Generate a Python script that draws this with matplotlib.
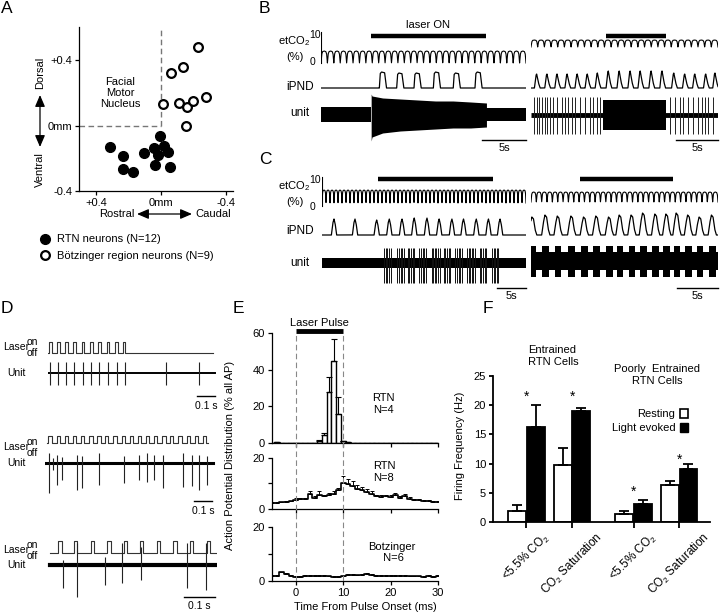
import numpy as np
import matplotlib
matplotlib.use('Agg')
import matplotlib.pyplot as plt
from matplotlib.patches import Patch
from matplotlib.transforms import ScaledTranslation

plt.rcParams['font.family'] = ['Liberation Sans', 'DejaVu Sans']
plt.rcParams['mathtext.fontset'] = 'custom'
plt.rcParams['mathtext.rm'] = 'Liberation Sans'
plt.rcParams['mathtext.it'] = 'Liberation Sans:italic'
plt.rcParams['mathtext.default'] = 'regular'
plt.rcParams['font.size'] = 8
plt.rcParams['axes.linewidth'] = 0.9
plt.rcParams['xtick.major.size'] = 3
plt.rcParams['ytick.major.size'] = 3
plt.rcParams['xtick.major.width'] = 0.9
plt.rcParams['ytick.major.width'] = 0.9

# ------------------------------------------------------------------ DATA
# Panel A: neuron locations (mm; + = rostral / dorsal)
rtn_rc = [0.312, 0.236, 0.236, 0.174, 0.107, 0.045, 0.008, 0.021, -0.016, -0.045, 0.035, -0.057]
rtn_dv = [-0.129, -0.183, -0.267, -0.283, -0.166, -0.137, -0.062, -0.178, -0.127, -0.164, -0.240, -0.252]
botz_rc = [-0.226, -0.137, -0.064, -0.012, -0.113, -0.162, -0.197, -0.277, -0.152]
botz_dv = [0.478, 0.359, 0.322, 0.133, 0.139, 0.113, 0.150, 0.174, -0.004]
a_xticks = [0.4, 0.0, -0.4]
a_xticklabels = ['+0.4', '0mm', '-0.4']
a_yticks = [-0.4, 0.0, 0.4]
a_yticklabels = ['-0.4', '0mm', '+0.4']

# Panel B / C: breathing cycles, laser epochs (s), iPND burst times (s)
bl_co2_cycles = 32
bl_laser = (5.7, 18.8)
bl_ipnd = [6.63, 8.6, 10.57, 12.77, 15.03, 17.5]
bl_ipnd_h = [16, 15, 15, 16, 15, 16]
bl_env_t = [5.7, 5.8, 7, 9, 11, 13, 15, 17, 18.8]
bl_env_top = [94, 96, 98, 99, 100, 101, 101, 102, 103]
bl_env_bot = [141, 137, 133, 131, 130, 129, 128, 128, 127]

br_co2_cycles = 28
br_laser = (8.9, 16.1)
br_ipnd = [0.67, 1.9, 3.1, 4.3, 5.5, 6.7, 7.9, 9.2, 10.5, 11.8, 13.0, 14.3, 15.6, 17.0, 18.3, 19.5, 20.8, 21.9]
br_ipnd_h = [14, 14, 14, 14, 14, 14, 15, 17, 17, 17, 17, 17, 17, 15, 14, 14, 14, 15]
br_unit_dense = (8.6, 16.1)
br_spikes = [0.36, 0.68, 0.99, 1.31, 1.67, 1.94, 2.26, 2.66, 3.06, 3.65, 4.05, 4.44, 4.84, 5.24,
             5.83, 6.43, 7.02, 7.42, 7.82, 8.21, 16.55, 17.14, 17.74, 18.14, 18.73, 19.33,
             19.92, 20.32, 20.71, 21.11, 21.70]

cl_co2_cycles = 51
cl_laser = (9.6, 29.5)
cl_ipnd = [2.07, 5.69, 9.43, 11.6, 13.8, 15.9, 18.1, 20.2, 22.4, 24.4, 26.6, 28.7, 30.7]
cl_ipnd_h = [16, 16, 15, 16, 16, 17, 17, 16, 16, 16, 16, 16, 16]
cl_bursts = [(10.7, 12.0), (13.0, 14.3), (14.8, 16.1), (16.8, 18.1), (18.9, 20.3),
             (21.0, 22.4), (23.0, 24.4), (25.0, 26.5), (27.2, 28.4), (29.3, 30.6)]

cr_co2_cycles = 35
cr_laser = (6.0, 17.3)
cr_ipnd = [0.2, 1.8, 3.3, 4.96, 6.5, 8.0, 9.55, 10.85, 12.3, 13.7, 15.2, 16.55, 17.8, 19.2, 20.6, 22.1]
cr_ipnd_h = [18, 20, 19, 19, 18, 19, 18, 20, 20, 22, 21, 21, 22, 20, 18, 20]

# Panel D: laser pulse onsets and unit spike times (s)
d1_pulses = [0.007, 0.052, 0.096, 0.141, 0.187, 0.233, 0.280, 0.326, 0.372, 0.415]
d1_spikes = [0.009, 0.054, 0.098, 0.143, 0.193, 0.239, 0.285, 0.332, 0.383, 0.430, 0.656, 0.837]
d2_pulses = [0.0185, 0.0648, 0.1111, 0.1537, 0.2, 0.2463, 0.2907, 0.3333, 0.3796, 0.4259,
             0.4722, 0.5148, 0.5611, 0.6056, 0.6519, 0.6944, 0.7407, 0.787, 0.8333, 0.8759]
d2_spikes = [0.0241, 0.0463, 0.0685, 0.0963, 0.1796, 0.2074, 0.3, 0.4389, 0.5241, 0.5685,
             0.6056, 0.6574, 0.7685, 0.8148, 0.8574, 0.9019]
d2_up = [453, 458, 455, 457, 455, 456, 453, 456, 455, 453, 455, 455, 453, 455, 455, 456]
d2_dn = [493, 470, 485, 480, 490, 488, 485, 483, 480, 482, 480, 488, 487, 486, 490, 485]
d3_pulses = [0.0434, 0.0945, 0.1488, 0.2031, 0.2573, 0.3094, 0.3637, 0.418, 0.4723, 0.5266]
d3_spikes = [0.0575, 0.1053, 0.1965, 0.2497, 0.3116, 0.4615, 0.5234]
d3_up = [560, 543, 557, 543, 547, 543, 543]
d3_dn = [588, 597, 585, 583, 580, 588, 590]

# Panel E: peri-stimulus histograms (% all AP), 1-ms bins centred on -5..30 ms
e_t = list(range(-5, 31))
e_rtn4 = [0, 0.5, 0, 0, 0, 0, 0, 0, 0, 0, 1.2, 4.5, 28, 45, 16, 1.0, 0.4, 0, 0, 0.2,
          0, 0, 0, 0, 0, 0, 0, 0, 0, 0, 0, 0, 0, 0, 0, 0]
e_rtn4_err = [0, 0, 0, 0, 0, 0, 0, 0, 0, 0, 0.3, 1.0, 8, 12, 9, 0.3, 0, 0, 0, 0,
              0, 0, 0, 0, 0, 0, 0, 0, 0, 0, 0, 0, 0, 0, 0, 0]
e_rtn8 = [2.5, 2.5, 2.6, 2.8, 3.0, 3.6, 3.8, 3.8, 5.8, 4.4, 5.6, 5.0, 5.5, 6.0, 7.2, 10.0,
          9.6, 9.0, 7.8, 7.2, 6.5, 5.8, 5.0, 4.8, 5.0, 4.6, 5.4, 4.4, 5.0, 4.0, 3.6, 3.4,
          3.2, 3.0, 2.8, 2.8]
e_rtn8_err = [0.3, 0.3, 0.3, 0.3, 0.3, 0.5, 0.5, 0.5, 1.3, 0.6, 1.4, 0.5, 0.6, 0.8, 1.0, 3.0,
              2.2, 2.0, 1.4, 1.2, 1.2, 1.0, 0.6, 0.6, 0.6, 0.8, 0.8, 0.6, 0.8, 0.5, 0.4, 0.4,
              0.4, 0.4, 0.4, 0.4]
e_botz = [1.8, 1.9, 3.2, 2.6, 2.0, 1.6, 1.5, 1.8, 2.0, 2.0, 1.9, 1.8, 1.7, 1.5, 1.4, 1.7,
          2.4, 2.2, 2.1, 2.4, 2.6, 2.2, 1.9, 1.8, 2.0, 1.9, 1.8, 2.0, 1.8, 1.7, 1.7, 1.7,
          1.6, 1.8, 1.4, 1.8]
e_botz_err = [0.3] * 36
e_pulse = (0, 10)

# Panel F: firing frequency (Hz)
f_categories = ['<5.5% CO$_2$', 'CO$_2$ Saturation', '<5.5% CO$_2$', 'CO$_2$ Saturation']
f_resting = [1.8, 9.7, 1.4, 6.4]
f_resting_err = [1.15, 3.0, 0.45, 0.7]
f_light = [16.3, 18.95, 3.1, 9.0]
f_light_err = [3.7, 0.65, 0.6, 1.0]
f_sig = [True, True, True, True]

# ------------------------------------------------------------------ FIGURE
W, H = 720, 614
fig = plt.figure(figsize=(7.2, 6.14), dpi=100)


def axes_px(x0, y0, x1, y1):
    ax = fig.add_axes([x0 / W, 1 - y1 / H, (x1 - x0) / W, (y1 - y0) / H])
    ax.patch.set_alpha(0)
    return ax


def trace_axes(x0, x1, y0, y1, t0, t1):
    ax = axes_px(x0, y0, x1, y1)
    ax.set_xlim(t0, t1)
    ax.set_ylim(y1, y0)
    ax.axis('off')
    return ax


ov = axes_px(0, 0, W, H)
ov.set_xlim(0, W)
ov.set_ylim(H, 0)
ov.axis('off')

# panel letters
for lab, x, y in [('A', 1, 1), ('B', 259, 1), ('C', 259, 152), ('D', 1, 301), ('E', 233, 301), ('F', 483, 301)]:
    ov.text(x, y, lab, fontsize=12.5, ha='left', va='top')

# ------------------------------------------------------------------ A
axA = axes_px(79, 27, 233, 191)
axA.set_xlim(0.505, -0.443)
axA.set_ylim(-0.4, 0.603)
axA.plot([0, 0], [0, 0.603], color='#777777', lw=1, dashes=(4, 2.5))
axA.plot([0.505, 0], [0, 0], color='#777777', lw=1, dashes=(4, 2.5))
axA.plot(rtn_rc, rtn_dv, 'o', ms=7, mfc='black', mec='black', label='RTN neurons (N=12)', clip_on=False)
axA.plot(botz_rc, botz_dv, 'o', ms=6.3, mfc='white', mec='black', mew=1.6,
         label='Bötzinger region neurons (N=9)', clip_on=False)
for s in ['top', 'right']:
    axA.spines[s].set_visible(False)
axA.set_xticks(a_xticks)
axA.set_xticklabels(a_xticklabels)
axA.set_yticks(a_yticks)
axA.set_yticklabels(a_yticklabels)
axA.tick_params(labelsize=8, pad=2)
axA.text(0.25, 0.2, 'Facial\nMotor\nNucleus', ha='center', va='center', fontsize=8, linespacing=1.15)
axA.legend(loc='upper left', bbox_to_anchor=(-0.26, -0.265), borderaxespad=0, borderpad=0,
           frameon=False, fontsize=8, handlelength=1.0, handletextpad=0.6, labelspacing=0.55)
ov.text(40, 73, 'Dorsal', rotation=90, ha='center', va='center', fontsize=8)
ov.text(40, 170, 'Ventral', rotation=90, ha='center', va='center', fontsize=8)
ov.annotate('', xy=(40, 147), xytext=(40, 95),
            arrowprops=dict(arrowstyle='<|-|>,head_length=0.7,head_width=0.3', color='black', lw=0.9,
                            mutation_scale=10, shrinkA=0, shrinkB=0))
ov.text(117, 214, 'Rostral', ha='center', va='center', fontsize=8)
ov.text(213, 214, 'Caudal', ha='center', va='center', fontsize=8)
ov.annotate('', xy=(192, 214), xytext=(137, 214),
            arrowprops=dict(arrowstyle='<|-|>,head_length=0.7,head_width=0.3', color='black', lw=0.9,
                            mutation_scale=10, shrinkA=0, shrinkB=0))

# ------------------------------------------------------------------ B / C helpers
CO2_SHAPE_U = [0, 0.12, 0.25, 0.5, 0.75, 0.88, 1.0]
CO2_SHAPE_S = [0, 0.75, 0.95, 1.0, 0.95, 0.75, 0]


def draw_co2(ax, t1, ncyc, lo_px, hi_px):
    t = np.linspace(0, t1, 4000)
    phase = (t / (t1 / ncyc)) % 1.0
    shape = np.interp(phase, CO2_SHAPE_U, CO2_SHAPE_S)
    ax.plot(t, lo_px - (lo_px - hi_px) * shape, color='black', lw=0.8)


def draw_ipnd(ax, t1, base, times, heights, dur, U, S, lw=0.9):
    t = np.linspace(0, t1, 5000)
    y = np.full_like(t, float(base))
    for t0, h in zip(times, heights):
        y -= h * np.interp((t - t0) / dur, U, S, left=0, right=0)
    ax.plot(t, y, color='black', lw=lw)


def scale_bar(ax, t1, length, y, label, lw=1.0):
    ax.plot([t1 - length, t1], [y, y], color='black', lw=lw, clip_on=False)
    if label:
        ax.text(t1 - length / 2, y + 3, label, ha='center', va='top', fontsize=8)


# B left  (8.8 px / s)
bl_T = 205 / 8.8
axBL = trace_axes(321, 526, 22, 150, 0, bl_T)
draw_co2(axBL, bl_T, bl_co2_cycles, 63, 51)
axBL.plot([0, 0], [63, 32], color='black', lw=0.8)
axBL.plot(bl_laser, [36, 36], color='black', lw=3.2, solid_capstyle='butt')
draw_ipnd(axBL, bl_T, 88, bl_ipnd, bl_ipnd_h, 0.8, [0, 0.12, 0.3, 0.75, 0.9, 1.0], [0, 0.9, 1.0, 0.95, 0.4, 0])
axBL.fill_between([0, bl_laser[0]], 107, 122, color='black', lw=0)
axBL.fill_between([bl_laser[1], bl_T], 108, 121, color='black', lw=0)
axBL.fill_between(bl_env_t, bl_env_top, bl_env_bot, color='black', lw=0)
scale_bar(axBL, bl_T, 5, 140, '5s')
ov.text(428, 25, 'laser ON', ha='center', va='center', fontsize=8)

# B right (8.4 px / s)
br_T = 187 / 8.4
axBR = trace_axes(531, 718, 22, 150, 0, br_T)
draw_co2(axBR, br_T, br_co2_cycles, 47, 40)
axBR.plot(br_laser, [36, 36], color='black', lw=3.2, solid_capstyle='butt')
draw_ipnd(axBR, br_T, 88, br_ipnd, br_ipnd_h, 0.75, [-0.35, -0.1, 0.0, 0.3, 0.55], [0, 0.9, 1.0, 0.35, 0])
axBR.plot([0, br_T], [114.5, 114.5], color='black', lw=3.5, solid_capstyle='butt')
axBR.fill_between(br_unit_dense, 100, 130, color='black', lw=0)
axBR.vlines(br_spikes, 97, 134, color='#222222', lw=0.7)
scale_bar(axBR, br_T, 5, 140, '5s')

# C left (5.8 px / s)
cl_T = 204 / 5.8
axCL = trace_axes(322, 526, 165, 300, 0, cl_T)
draw_co2(axCL, cl_T, cl_co2_cycles, 203, 190)
axCL.plot([0, 0], [206, 177], color='black', lw=0.8)
axCL.plot(cl_laser, [179, 179], color='black', lw=3.2, solid_capstyle='butt')
draw_ipnd(axCL, cl_T, 235, cl_ipnd, cl_ipnd_h, 1.0, [-0.45, -0.2, 0, 0.2, 0.45], [0, 0.75, 1.0, 0.7, 0])
axCL.fill_between([0, cl_T], 258, 268, color='black', lw=0)
for b0, b1 in cl_bursts:
    ts = np.arange(b0, b1, 0.28)
    axCL.vlines(ts, 248, 283, color='#111111', lw=0.7)
scale_bar(axCL, cl_T, 5, 288, '5s')

# C right (8.2 px / s)
cr_T = 187 / 8.2
axCR = trace_axes(531, 718, 165, 300, 0, cr_T)
draw_co2(axCR, cr_T, cr_co2_cycles, 202, 192)
axCR.plot(cr_laser, [179, 179], color='black', lw=3.2, solid_capstyle='butt')
draw_ipnd(axCR, cr_T, 235, cr_ipnd, cr_ipnd_h, 1.0, [-0.5, -0.3, -0.1, 0.1, 0.3, 0.5], [0, 0.6, 1.0, 0.9, 0.3, 0])
axCR.fill_between([0, cr_T], 252, 270, color='black', lw=0)
for tp in cr_ipnd:
    axCR.fill_between([max(tp - 0.4, 0), min(tp + 0.4, cr_T)], 246, 277, color='black', lw=0)
scale_bar(axCR, cr_T, 5, 288, '5s')

# B / C row labels
for y0 in [0, 145]:
    ov.text(294, 41 + y0, 'etCO$_2$', ha='center', va='center', fontsize=8)
    ov.text(295, 57 + y0, '(%)', ha='center', va='center', fontsize=8)
    ov.text(315, 35 + y0, '10', ha='center', va='center', fontsize=7.5)
    ov.text(313, 62 + y0, '0', ha='center', va='center', fontsize=7.5)
ov.text(300, 87, 'iPND', ha='center', va='center', fontsize=8.5)
ov.text(300, 113, 'unit', ha='center', va='center', fontsize=8.5)
ov.text(300, 231, 'iPND', ha='center', va='center', fontsize=8.5)
ov.text(300, 263, 'unit', ha='center', va='center', fontsize=8.5)

# ------------------------------------------------------------------ D


def draw_pulses(ax, starts, width, t0, t1, base, high):
    xs, ys = [t0], [base]
    for s in starts:
        xs += [s, s, s + width, s + width]
        ys += [base, high, high, base]
    xs.append(t1)
    ys.append(base)
    ax.plot(xs, ys, color='#333333', lw=0.8)


# row 1 (180 px / s)
axD1 = trace_axes(48, 216, 335, 415, 0, 168 / 180)
draw_pulses(axD1, d1_pulses, 0.015, 0, 0.915, 353, 342)
axD1.plot([0, 0.928], [373, 373], color='black', lw=1.4)
axD1.vlines(d1_spikes, 362, 385, color='#222222', lw=0.8)
scale_bar(axD1, 0.928, 0.1, 396, None)
axD1.text(0.878, 401, '0.1 s', ha='center', va='top', fontsize=7.5)

# row 2 (180 px / s)
axD2 = trace_axes(45, 216, 430, 520, 0, 171 / 180)
draw_pulses(axD2, d2_pulses, 0.018, 0.0093, 0.907, 443, 436)
axD2.plot([0, 0.935], [463, 463], color='black', lw=2.2)
axD2.vlines(d2_spikes, d2_up, d2_dn, color='#222222', lw=0.8)
scale_bar(axD2, 0.928, 0.1, 501, None)
axD2.text(0.878, 506, '0.1 s', ha='center', va='top', fontsize=7.5)

# row 3 (307 px / s)
axD3 = trace_axes(45, 217, 535, 614, 0, 172 / 307)
draw_pulses(axD3, d3_pulses, 0.011, 0.0163, 0.559, 553, 541)
axD3.plot([0.0163, 0.557], [565, 565], color='black', lw=3.0)
axD3.vlines(d3_spikes, d3_up, d3_dn, color='#222222', lw=0.8)
scale_bar(axD3, 0.5528, 0.1, 597, None)
axD3.text(0.5028, 601, '0.1 s', ha='center', va='top', fontsize=7.5)

for yl, yu in [(347, 373), (447, 463), (550, 565)]:
    ov.text(3, yl, 'Laser', ha='left', va='center', fontsize=7.5)
    ov.text(27, yl - 5, 'on', ha='left', va='center', fontsize=7.5)
    ov.text(27, yl + 6, 'off', ha='left', va='center', fontsize=7.5)
    ov.text(7, yu, 'Unit', ha='left', va='center', fontsize=7.5)

# ------------------------------------------------------------------ E
axE1 = axes_px(272, 333, 438, 443)
axE2 = axes_px(272, 457.5, 438, 509)
axE3 = axes_px(272, 527, 438, 581)
axEo = axes_px(272, 333, 438, 581)
axEo.set_xlim(-5, 30)
axEo.set_ylim(0, 1)
axEo.axis('off')
for xv in e_pulse:
    axEo.axvline(xv, color='#888888', lw=0.8, dashes=(5, 3))

e_t_arr = np.array(e_t, dtype=float)
axE1.bar(e_t_arr, e_rtn4, width=1.0, color='white', edgecolor='black', lw=1.0, zorder=2)
axE1.errorbar(e_t_arr, e_rtn4, yerr=[np.zeros(len(e_t)), e_rtn4_err], fmt='none',
              ecolor='black', elinewidth=0.8, capsize=2, capthick=0.8, zorder=3)
axE1.plot(e_pulse, [61, 61], color='black', lw=3.5, solid_capstyle='butt', clip_on=False)
axE1.text(5, 62.8, 'Laser Pulse', ha='center', va='bottom', fontsize=8)
axE1.text(18.4, 21.3, 'RTN\nN=4', ha='center', va='center', fontsize=8, linespacing=1.15)

for ax, vals, errs in [(axE2, e_rtn8, e_rtn8_err), (axE3, e_botz, e_botz_err)]:
    ax.step(e_t_arr, vals, where='mid', color='black', lw=1.2)
    ax.errorbar(e_t_arr, vals, yerr=[np.zeros(len(e_t)), errs], fmt='none', ecolor='black',
                elinewidth=0.7, capsize=1.5, capthick=0.7)
axE2.text(18.6, 14.4, 'RTN\nN=8', ha='center', va='center', fontsize=8, linespacing=1.15)
axE3.text(20.3, 10.6, 'Botzinger\n N=6', ha='center', va='center', fontsize=8, linespacing=1.15)

for ax, top, yt in [(axE1, 60, [0, 20, 40, 60]), (axE2, 20, [0, 10, 20]), (axE3, 20, [0, 10, 20])]:
    ax.set_xlim(-5, 30)
    ax.set_ylim(0, top)
    for s in ['top', 'right']:
        ax.spines[s].set_visible(False)
    ax.set_yticks(yt)
    ax.set_yticklabels([str(v) if (top == 60 or v != 10) else '' for v in yt])
    ax.set_xticks([0, 10, 20, 30])
    ax.tick_params(labelsize=8, pad=2)
    if ax is not axE3:
        ax.set_xticklabels([])
ov.text(365, 607, 'Time From Pulse Onset (ms)', ha='center', va='center', fontsize=8)
ov.text(230, 455, 'Action Potential Distribution (% all AP)', rotation=90, ha='center', va='center',
        fontsize=8)

# ------------------------------------------------------------------ F
axF = axes_px(493, 376, 710, 522)
f_x = np.array([0.0, 1.0, 2.34, 3.34])
bw = 0.39
axF.bar(f_x - 0.2, f_resting, width=bw, color='white', edgecolor='black', lw=1.3, label='Resting')
axF.bar(f_x + 0.2, f_light, width=bw, color='black', edgecolor='black', lw=1.3, label='Light evoked')
axF.errorbar(f_x - 0.2, f_resting, yerr=[np.zeros(4), f_resting_err], fmt='none', ecolor='black',
             elinewidth=1.3, capsize=3.5, capthick=1.3)
axF.errorbar(f_x + 0.2, f_light, yerr=[np.zeros(4), f_light_err], fmt='none', ecolor='black',
             elinewidth=1.3, capsize=3.5, capthick=1.3)
star_y = [21.4, 21.4, 5.1, 10.6]
for xi, sy, sig in zip(f_x, star_y, f_sig):
    if sig:
        axF.text(xi, sy, '*', ha='center', va='center', fontsize=10)
axF.set_xlim(-0.73, 4.01)
axF.set_ylim(0, 25)
for s in ['top', 'right']:
    axF.spines[s].set_visible(False)
axF.spines['left'].set_linewidth(1.3)
axF.spines['bottom'].set_linewidth(1.3)
axF.set_yticks([0, 5, 10, 15, 20, 25])
axF.set_xticks(f_x)
axF.set_xticklabels(f_categories, rotation=45, ha='center', fontsize=8.5)
for lab in axF.get_xticklabels():
    lab.set_transform(lab.get_transform() + ScaledTranslation(3 / 100, 2 / 100, fig.dpi_scale_trans))
axF.tick_params(axis='y', labelsize=8, pad=2, width=1.3)
axF.tick_params(axis='x', width=1.3, length=4, pad=2)
handles = [Patch(facecolor='white', edgecolor='black', lw=1.2), Patch(facecolor='black', edgecolor='black')]
axF.legend(handles, ['Resting', 'Light evoked'], loc='upper right', bbox_to_anchor=((688 - 493) / 217, 1 - (409 - 376) / 146),
           frameon=False, fontsize=8, markerfirst=False, handlelength=0.75, handleheight=0.9,
           handletextpad=0.4, labelspacing=0.3, borderpad=0, borderaxespad=0)
ov.text(552, 356, 'Entrained\n RTN Cells', ha='center', va='center', fontsize=8, linespacing=1.15)
ov.text(657, 375, 'Poorly  Entrained\nRTN Cells', ha='center', va='center', fontsize=8, linespacing=1.15)
ov.text(460, 446, 'Firing Frequency (Hz)', rotation=90, ha='center', va='center', fontsize=8)

fig.savefig('out.png', dpi=100)
